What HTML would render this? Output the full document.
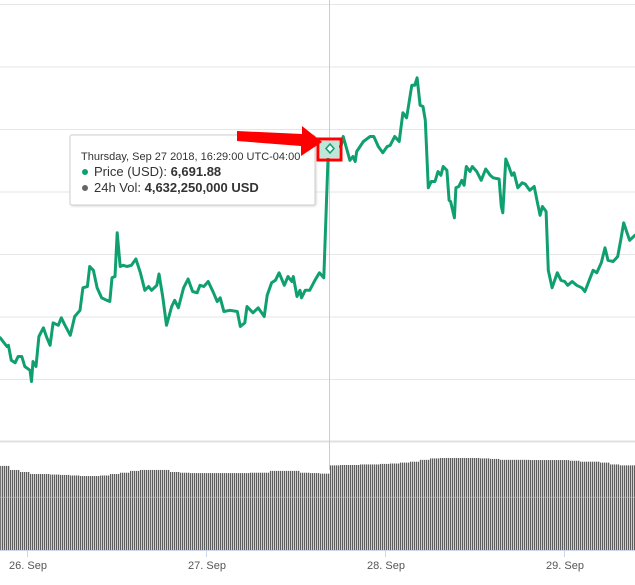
<!DOCTYPE html>
<html><head><meta charset="utf-8"><style>
html,body{margin:0;padding:0;background:#fff;}
svg{display:block;font-family:"Liberation Sans",sans-serif;}
</style></head><body>
<svg id="chart" width="635" height="585" viewBox="0 0 635 585">
<defs>
<pattern id="stripes" patternUnits="userSpaceOnUse" width="2" height="10">
<rect x="0" y="0" width="1.3" height="10" fill="#5e5e5e"/>
</pattern>
</defs>
<g id="grid"></g>
<g id="vol"></g>
<g id="xaxis"></g>
<line x1="329.5" y1="0" x2="329.5" y2="470" stroke="#ccc" stroke-width="1"/>
<g id="price"></g>
<g>
<rect x="70" y="135" width="245" height="70" rx="2" fill="#fff" stroke="#cfcfcf" stroke-width="1" style="filter:drop-shadow(1px 1px 1px rgba(0,0,0,0.15))"/>
<text x="81" y="160" font-size="11" fill="#333">Thursday, Sep 27 2018, 16:29:00 UTC-04:00</text>
<circle cx="85" cy="172" r="3" fill="#10a070"/>
<text x="94" y="176" font-size="13" fill="#333">Price (USD): <tspan font-weight="bold">6,691.88</tspan></text>
<circle cx="85" cy="188" r="3" fill="#666"/>
<text x="94" y="192" font-size="13" fill="#333">24h Vol: <tspan font-weight="bold">4,632,250,000 USD</tspan></text>
</g>
<rect x="318" y="139" width="23" height="21" fill="none" stroke="#f00" stroke-width="3"/>
<rect x="320" y="141" width="19" height="17" fill="#bfe6d8"/>
<path d="M330 144 L334 148.5 L330 153 L326 148.5 Z" fill="#fff" stroke="#10a070" stroke-width="1.5"/>
<path d="M237 131 L302 134 L302 126 L322 142 L301 156 L301 146 L237 141 Z" fill="#f00"/>
</svg>
<script>
const times=[-3.6,-2.7,-2.5,-2.1,-1.6,-1.2,-0.7,-0.3,0.4,0.6,0.8,1.2,1.6,2.2,2.6,3.1,3.5,4.2,4.6,5.1,5.8,6.4,7.1,7.5,8.1,8.4,8.9,9.4,10.0,10.7,11.1,11.4,11.8,12.1,12.5,12.9,13.4,14.0,14.6,15.2,15.8,16.3,16.7,17.4,17.7,18.2,18.7,19.4,19.8,20.3,21.0,21.6,22.2,22.8,23.2,23.7,24.3,25.0,25.5,25.9,26.4,27.2,28.2,28.6,29.2,29.5,30.3,31.0,31.8,32.2,32.8,33.3,33.8,34.5,35.0,35.5,35.7,36.2,36.6,36.8,37.3,37.9,38.6,39.2,39.8,40.4,40.6,41.3,42.1,42.4,43.3,43.7,44.0,44.2,45.1,46.0,46.5,47.1,47.7,48.3,48.7,49.3,49.9,50.4,50.9,51.6,52.0,52.3,52.7,53.1,53.4,53.8,54.2,54.7,55.1,55.5,55.8,56.3,56.6,56.8,57.3,57.5,57.9,58.3,58.6,58.9,59.4,59.7,60.3,60.9,61.1,61.5,62.1,62.5,63.3,63.6,63.8,64.2,64.6,65.0,65.3,65.8,66.4,66.8,67.4,68.0,68.4,68.8,69.1,69.6,69.9,70.4,71.1,71.6,72.1,72.5,73.1,73.7,74.4,74.8,75.9,76.4,77.0,77.5,77.9,78.6,79.2,79.6,80.0,80.4,80.8,81.5];
const prices=[6533,6526,6527,6515,6513,6518,6518,6510,6507,6498,6514,6510,6534,6541,6534,6527,6545,6543,6549,6543,6535,6550,6555,6573,6574,6590,6587,6573,6565,6563,6562,6581,6582,6617,6590,6591,6590,6591,6596,6585,6571,6574,6571,6575,6584,6566,6543,6558,6563,6557,6573,6580,6570,6569,6575,6574,6578,6569,6562,6565,6554,6555,6554,6542,6545,6558,6553,6557,6550,6567,6577,6579,6585,6575,6582,6578,6582,6566,6571,6565,6571,6571,6579,6585,6581,6683,6685,6686,6686,6694,6675,6678,6674,6682,6690,6694,6694,6686,6681,6686,6687,6694,6690,6713,6709,6735,6735,6741,6719,6718,6707,6653,6658,6658,6666,6663,6670,6667,6643,6642,6629,6653,6654,6659,6655,6670,6666,6670,6666,6659,6662,6668,6663,6661,6660,6638,6633,6676,6670,6663,6665,6653,6657,6656,6651,6654,6642,6631,6638,6634,6587,6573,6585,6579,6578,6575,6578,6575,6573,6570,6587,6585,6593,6605,6595,6594,6598,6611,6625,6618,6611,6615];
const priceTicks=[6850,6800,6750,6700,6650,6600,6550,6500,6450];
const volTimes=[-3.6,-2.3,-1.0,0.4,1.7,3.1,4.4,5.7,7.1,8.4,9.8,11.1,12.4,13.8,15.1,16.5,17.8,19.1,20.5,21.8,23.2,24.5,25.8,27.2,28.5,29.9,31.2,32.5,33.9,35.2,36.6,37.9,39.2,40.6,41.9,43.3,44.6,45.9,47.3,48.6,50.0,51.3,52.6,54.0,55.3,56.7,58.0,59.3,60.7,62.0,63.4,64.7,66.0,67.4,68.7,70.1,71.4,72.7,74.1,75.4,76.8,78.1,79.4,80.8];
const volumes=[4.57,4.35,4.24,4.13,4.13,4.10,4.08,4.05,4.02,4.02,4.05,4.13,4.20,4.30,4.35,4.35,4.35,4.24,4.20,4.18,4.18,4.18,4.18,4.18,4.18,4.20,4.20,4.30,4.30,4.30,4.20,4.18,4.15,4.60,4.62,4.62,4.65,4.65,4.68,4.70,4.75,4.80,4.90,4.98,5.00,5.00,5.00,5.00,4.98,4.95,4.90,4.90,4.90,4.89,4.89,4.89,4.89,4.85,4.80,4.80,4.75,4.65,4.60,4.60];
const volTicks=[0,2.9];
const dayLabels=["26. Sep","27. Sep","28. Sep","29. Sep"];
const dayHours=[0,24,48,72];

const NS="http://www.w3.org/2000/svg";
const xS=h=>27+h*179/24;
const yP=p=>129+(6700-p)*1.25;
const yV=v=>550-v*18.4;
function mk(tag,attrs,parent){const e=document.createElementNS(NS,tag);for(const k in attrs)e.setAttribute(k,attrs[k]);parent.appendChild(e);return e;}

const grid=document.getElementById('grid');
priceTicks.forEach(t=>{
  const l=mk('line',{x1:0,x2:635,y1:yP(t)+0.5,y2:yP(t)+0.5,stroke:'#e6e6e6','stroke-width':1},grid);
  
  
});
mk('line',{x1:0,x2:635,y1:441.5,y2:441.5,stroke:'#e0e0e0','stroke-width':2},grid);

const vol=document.getElementById('vol');
volumes.forEach((v,i)=>{
  const x0=xS(volTimes[i]);
  const x1=i+1<volTimes.length?xS(volTimes[i+1]):635;
  const r=mk('rect',{x:x0,y:yV(v),width:x1-x0,height:550-yV(v),fill:'url(#stripes)'},vol);
  
  
});
volTicks.slice(1).forEach(t=>{
  const l=mk('line',{x1:0,x2:635,y1:yV(t)+0.5,y2:yV(t)+0.5,stroke:'#ccc','stroke-width':0.6,opacity:0.8},vol);
  
  
});

const xa=document.getElementById('xaxis');
mk('line',{x1:0,x2:635,y1:550.5,y2:550.5,stroke:'#ccd6eb','stroke-width':1},xa);
dayHours.forEach((h,i)=>{
  const x=xS(h);
  const t=mk('line',{x1:x+0.5,x2:x+0.5,y1:550,y2:557,stroke:'#ccd6eb','stroke-width':1},xa);
  
  
  const tx=mk('text',{x:x+1,y:569,'font-size':11,fill:'#555','text-anchor':'middle'},xa);
  tx.textContent=dayLabels[i];
  
  
});

const pg=document.getElementById('price');
const d=times.map((h,i)=>(i?'L':'M')+xS(h).toFixed(1)+' '+yP(prices[i]).toFixed(1)).join(' ');
const pl=mk('path',{d:d,fill:'none',stroke:'#10a070','stroke-width':3,'stroke-linejoin':'round','stroke-linecap':'round'},pg);


</script>
</body></html>
